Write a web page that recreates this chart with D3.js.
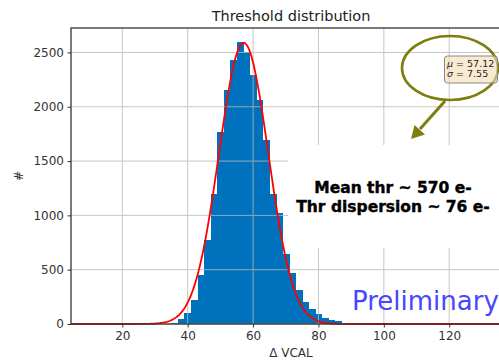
<!DOCTYPE html>
<html>
<head>
<meta charset="utf-8">
<script src="https://cdn.jsdelivr.net/npm/d3@7"></script>
<style>
  body { margin: 0; background: #fff; }
  svg { display: block; font-family: 'DejaVu Sans', sans-serif; }
</style>
</head>
<body>
<svg id="chart" width="499" height="361"></svg>
<script>
// histogram: left edge of each 2-unit bin and its count
const binStarts = [35, 37, 39, 41, 43, 45, 47, 49, 51, 53, 55, 57, 59, 61, 63,
  65, 67, 69, 71, 73, 75, 77, 79, 81, 83, 85, 87, 89];
const counts = [12, 45, 100, 220, 450, 772, 1201, 1767, 2157, 2430, 2592, 2507, 2290, 2059, 1690,
  1201, 1020, 643, 466, 315, 205, 140, 88, 52, 37, 24, 10, 4];
const BIN_WIDTH = 2;

// gaussian fit shown in the box
const MU = 57.12;
const SIGMA = 7.55;
const PEAK = 2588;

const xTicks = [20, 40, 60, 80, 100, 120];
const yTicks = [0, 500, 1000, 1500, 2000, 2500];
const noteLines = ['Mean thr ~ 570 e-', 'Thr dispersion ~ 76 e-'];

const PLOT = { left: 71, right: 511, top: 28, bottom: 324 };

const svg = d3.select('#chart');

const x = d3.scaleLinear().domain([4.3, 138.9]).range([PLOT.left, PLOT.right]);
const y = d3.scaleLinear().domain([0, 2725]).range([PLOT.bottom, PLOT.top]);

// bars
svg.append('g')
  .attr('fill', '#0072bd')
  .attr('shape-rendering', 'crispEdges')
  .selectAll('rect')
  .data(binStarts.map((b, i) => ({ x0: b, x1: b + BIN_WIDTH, n: counts[i] })))
  .join('rect')
  .attr('x', d => x(d.x0))
  .attr('width', d => x(d.x1) - x(d.x0) + 0.6)
  .attr('y', d => y(d.n))
  .attr('height', d => y(0) - y(d.n));

// grid above the bars, like the original
const grid = svg.append('g').attr('stroke', '#b8b8b8').attr('stroke-width', 1).attr('opacity', 0.8);
grid.selectAll('.gx').data(xTicks).join('line')
  .attr('x1', d => x(d)).attr('x2', d => x(d))
  .attr('y1', PLOT.top).attr('y2', PLOT.bottom);
grid.selectAll('.gy').data(yTicks).join('line')
  .attr('x1', PLOT.left).attr('x2', PLOT.right)
  .attr('y1', d => y(d)).attr('y2', d => y(d));

// fit curve
const gauss = v => PEAK * Math.exp(-0.5 * Math.pow((v - MU) / SIGMA, 2));
const xs = d3.range(x.domain()[0], x.domain()[1], 0.25);
svg.append('path')
  .datum(xs)
  .attr('fill', 'none')
  .attr('stroke', '#ff0000')
  .attr('stroke-width', 1.8)
  .attr('d', d3.line().x(d => x(d)).y(d => y(gauss(d))));

// white patch behind the note text
svg.append('rect')
  .attr('x', 288).attr('y', 145).attr('width', 230).attr('height', 103)
  .attr('fill', '#fff');

svg.append('g')
  .attr('font-weight', 'bold')
  .attr('font-size', 15.5)
  .attr('text-anchor', 'middle')
  .attr('fill', '#000')
  .attr('stroke', '#000')
  .attr('stroke-width', 0.4)
  .selectAll('text')
  .data(noteLines)
  .join('text')
  .attr('x', 393)
  .attr('y', (d, i) => 193 + i * 18.7)
  .text(d => d);

svg.append('text')
  .attr('x', 352).attr('y', 309.5)
  .attr('font-size', 26)
  .attr('fill', '#4646ff')
  .text('Preliminary');

// axes
const xAxis = svg.append('g')
  .attr('transform', `translate(0, ${PLOT.bottom})`)
  .call(d3.axisBottom(x).tickValues(xTicks).tickSize(3.5).tickPadding(3.5).tickFormat(d3.format('d')));
const yAxis = svg.append('g')
  .attr('transform', `translate(${PLOT.left}, 0)`)
  .call(d3.axisLeft(y).tickValues(yTicks).tickSize(3.5).tickPadding(3.5).tickFormat(d3.format('d')));
[xAxis, yAxis].forEach(a => {
  a.select('.domain').remove();
  a.selectAll('line').attr('stroke', '#333');
  a.selectAll('text').attr('font-size', 12).attr('fill', '#333')
    .attr('font-family', 'DejaVu Sans, sans-serif');
});

// spines
svg.append('rect')
  .attr('x', PLOT.left).attr('y', PLOT.top)
  .attr('width', PLOT.right - PLOT.left).attr('height', PLOT.bottom - PLOT.top)
  .attr('fill', 'none').attr('stroke', '#333').attr('stroke-width', 1.3);

svg.append('text')
  .attr('x', 291).attr('y', 21)
  .attr('text-anchor', 'middle').attr('font-size', 14.5).attr('fill', '#222')
  .text('Threshold distribution');

svg.append('text')
  .attr('x', 291).attr('y', 357)
  .attr('text-anchor', 'middle').attr('font-size', 12).attr('fill', '#333')
  .text('\u0394 VCAL');

svg.append('text')
  .attr('transform', 'translate(23, 176) rotate(-90)')
  .attr('text-anchor', 'middle').attr('font-size', 12).attr('fill', '#333')
  .text('#');

// ellipse + arrow annotation
const olive = '#7d7d10';
svg.append('ellipse')
  .attr('cx', 450).attr('cy', 68).attr('rx', 48).attr('ry', 32)
  .attr('fill', 'none').attr('stroke', olive).attr('stroke-width', 2.6);

svg.append('line')
  .attr('x1', 445).attr('y1', 101).attr('x2', 420).attr('y2', 129)
  .attr('stroke', olive).attr('stroke-width', 3);
svg.append('path')
  .attr('d', 'M411,139 L414.5,125 L425,134.5 Z')
  .attr('fill', olive);

// fit parameter box
svg.append('rect')
  .attr('x', 444.5).attr('y', 56).attr('width', 53).attr('height', 27)
  .attr('rx', 3)
  .attr('fill', '#f5deb3').attr('fill-opacity', 0.6)
  .attr('stroke', '#888').attr('stroke-width', 1);

const fitText = svg.append('g').attr('font-size', 9.5).attr('fill', '#222');
[['\u03bc', ' = ' + MU.toFixed(2)], ['\u03c3', ' = ' + SIGMA.toFixed(2)]].forEach((p, i) => {
  const t = fitText.append('text').attr('x', 447).attr('y', 66.5 + i * 10.5);
  t.append('tspan').attr('font-style', 'italic').text(p[0]);
  t.append('tspan').text(p[1]);
});
</script>
</body>
</html>
